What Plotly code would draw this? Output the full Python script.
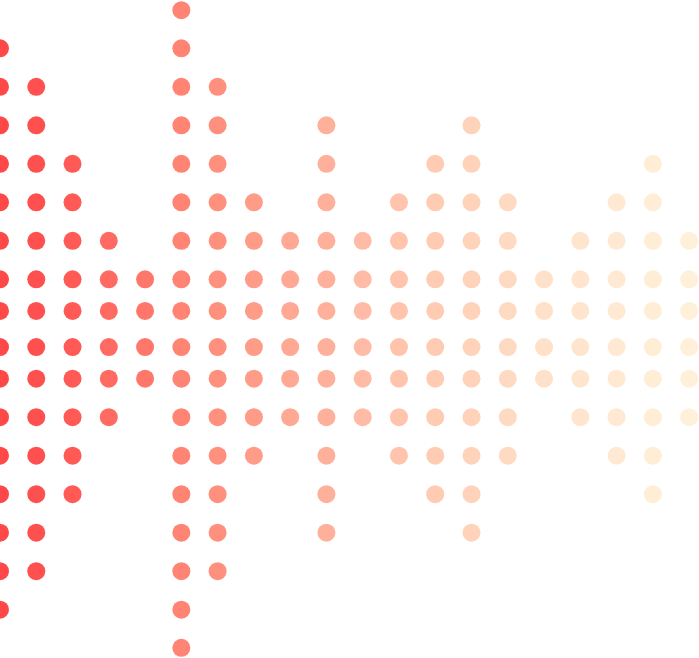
import plotly.graph_objects as go

# dots per half-column (mirrored above and below the centre line)
half_counts = [8, 7, 5, 3, 2, 9, 7, 4, 3, 6, 3, 4, 5, 6, 4, 2, 3, 4, 5, 3]

# distance of each dot row from the centre line (in row units)
row_levels = [0.47, 1.29, 2.29, 3.29, 4.29, 5.29, 6.29, 7.29, 8.28]

# column colours, red fading into cream
col_colors = [
    "#FF4848", "#FF5050", "#FF5A55", "#FF6A62", "#FF766B",
    "#FF8474", "#FF907E", "#FF9C88", "#FFA893", "#FFB09A",
    "#FFBBA5", "#FFC4AB", "#FFCBB2", "#FFD3BA", "#FFDAC2",
    "#FFE0C8", "#FFE5CD", "#FFE9D2", "#FFEDD6", "#FFF0DA",
]

W, H = 699, 658
COL_PX = 36.27
ROW_PX = 38.5

fig = go.Figure()
for i, n in enumerate(half_counts):
    ys = [lv for lv in row_levels[:n]] + [-lv for lv in row_levels[:n]]
    fig.add_trace(go.Scatter(
        x=[i] * len(ys), y=ys, mode="markers",
        marker=dict(size=18, color=col_colors[i], line=dict(width=0)),
        hoverinfo="skip", showlegend=False,
    ))

half_h = H / ROW_PX / 2
fig.update_layout(
    width=W, height=H, margin=dict(l=0, r=0, t=0, b=0),
    paper_bgcolor="white", plot_bgcolor="white",
    xaxis=dict(range=[0, W / COL_PX], visible=False, fixedrange=True),
    yaxis=dict(range=[-half_h, half_h], visible=False, fixedrange=True),
)

# drop the browser's default 8px page margin so the chart sits at 0,0
fig.write_html("out.html", post_script="document.body.style.margin='0px';",
               config={"displayModeBar": False})
